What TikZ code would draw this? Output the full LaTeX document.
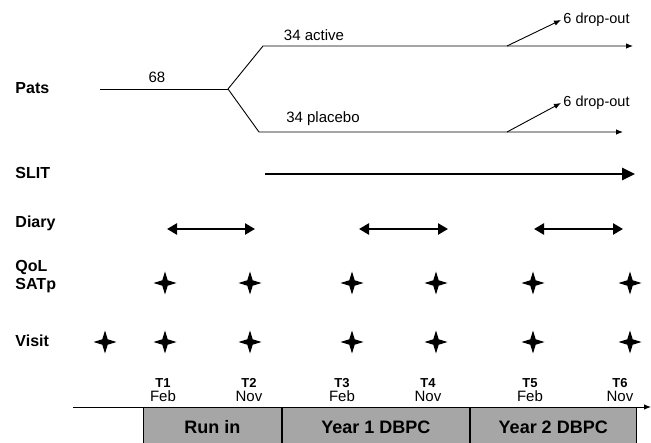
\documentclass[tikz,border=0pt]{standalone}
\usepackage{fontspec}
\setmainfont{Liberation Sans}
\usetikzlibrary{shapes.geometric,arrows.meta}
\begin{document}
\begin{tikzpicture}[x=1pt, y=-1pt, line width=0.9pt,
    rowlabel/.style={font=\fontsize{16}{18}\selectfont\bfseries, anchor=west, inner sep=0pt, align=left},
    armtext/.style={font=\fontsize{15}{17}\selectfont, inner sep=0pt},
    droptext/.style={font=\fontsize{14.5}{16}\selectfont, anchor=west, inner sep=2pt},
    visitstar/.style={star, star points=4, star point ratio=3, fill=black, inner sep=0pt, minimum size=23pt},
    tlabel/.style={align=center, inner sep=0pt, font=\fontsize{15}{14.5}\selectfont},
    phase/.style={draw, fill=gray!70, minimum height=40pt, anchor=north west, inner sep=0pt, font=\fontsize{18}{20}\selectfont\bfseries},
    thinarrow/.style={-{Latex[length=7pt,width=5.5pt]}},
    thickarrow/.style={line width=2.6pt, -{Triangle[length=13pt,width=12pt]}},
    diaryarrow/.style={line width=2.6pt, {Triangle[length=10pt,width=11pt]}-{Triangle[length=10pt,width=11pt]}}]
    \useasboundingbox (0,0) rectangle (651,443);
    % row labels
    \node[rowlabel] (pats) at (15,88) {Pats};
    \node[rowlabel] (slit) at (15,173) {SLIT};
    \node[rowlabel] (diary) at (15,223) {Diary};
    \node[rowlabel] (qol) at (15,277) {QoL\\SATp};
    \node[rowlabel] (visit) at (15,341) {Visit};
    % patients
    \coordinate (start) at (100,89);
    \coordinate (split) at (228,89);
    \coordinate (act0) at (263,46);
    \coordinate (act1) at (633,46);
    \coordinate (pla0) at (259,132);
    \coordinate (pla1) at (623,132);
    \coordinate (actdrop) at (507,46);
    \coordinate (pladrop) at (507,132);
    \node[armtext] (all) at (157,77) {68};
    \node[armtext] (active) at (314,35) {34 active};
    \node[armtext] (placebo) at (323,119) {34 placebo};
    \node[droptext] (actout) at (561,20) {6 drop-out};
    \node[droptext] (plaout) at (561,103) {6 drop-out};
    \draw (start) -- (split);
    \draw[thinarrow] (split) -- (act0) -- (act1);
    \draw[thinarrow] (split) -- (pla0) -- (pla1);
    \draw[thinarrow] (actdrop) -- (actout.west);
    \draw[thinarrow] (pladrop) -- (plaout.west);
    % SLIT
    \coordinate (slit0) at (265,174);
    \coordinate (slit1) at (635,174);
    \draw[thickarrow] (slit0) -- (slit1);
    % diary
    \coordinate (dia1a) at (167,229);
    \coordinate (dia1b) at (255,229);
    \coordinate (dia2a) at (359,229);
    \coordinate (dia2b) at (448,229);
    \coordinate (dia3a) at (534,229);
    \coordinate (dia3b) at (623,229);
    \draw[diaryarrow] (dia1a) -- (dia1b);
    \draw[diaryarrow] (dia2a) -- (dia2b);
    \draw[diaryarrow] (dia3a) -- (dia3b);
    % QoL / SATp
    \node[visitstar] (q1) at (165,283) {};
    \node[visitstar] (q2) at (250,283) {};
    \node[visitstar] (q3) at (352,283) {};
    \node[visitstar] (q4) at (436,283) {};
    \node[visitstar] (q5) at (533,283) {};
    \node[visitstar] (q6) at (630,283) {};
    % visits
    \node[visitstar] (v0) at (105,342) {};
    \node[visitstar] (v1) at (165,342) {};
    \node[visitstar] (v2) at (250,342) {};
    \node[visitstar] (v3) at (352,342) {};
    \node[visitstar] (v4) at (436,342) {};
    \node[visitstar] (v5) at (533,342) {};
    \node[visitstar] (v6) at (630,342) {};
    % time points
    \node[tlabel] (t1) at (163,390) {{\fontsize{13}{14.5}\selectfont\bfseries T1}\\Feb};
    \node[tlabel] (t2) at (249,390) {{\fontsize{13}{14.5}\selectfont\bfseries T2}\\Nov};
    \node[tlabel] (t3) at (342,390) {{\fontsize{13}{14.5}\selectfont\bfseries T3}\\Feb};
    \node[tlabel] (t4) at (428,390) {{\fontsize{13}{14.5}\selectfont\bfseries T4}\\Nov};
    \node[tlabel] (t5) at (530,390) {{\fontsize{13}{14.5}\selectfont\bfseries T5}\\Feb};
    \node[tlabel] (t6) at (620,390) {{\fontsize{13}{14.5}\selectfont\bfseries T6}\\Nov};
    % phases
    \node[phase, minimum width=138pt] (runin) at (143,407) {Run in};
    \node[phase, minimum width=187pt] (year1) at (runin.north east) {Year 1 DBPC};
    \node[phase, minimum width=166pt] (year2) at (year1.north east) {Year 2 DBPC};
    \coordinate (ax0) at (73,407);
    \coordinate (ax1) at (651,407);
    \draw[thinarrow] (ax0) -- (ax1);
\end{tikzpicture}
\end{document}
